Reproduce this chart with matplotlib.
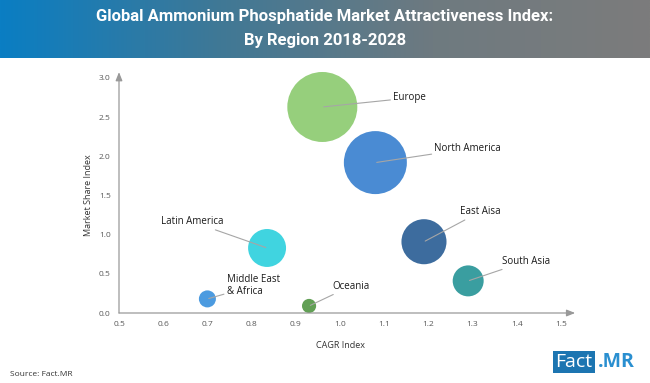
import matplotlib.pyplot as plt
import numpy as np
from matplotlib.colors import LinearSegmentedColormap

# data
regions = ['Europe', 'North America', 'East Aisa', 'South Asia',
           'Latin America', 'Middle East\n& Africa', 'Oceania']
cagr_index = [0.96, 1.08, 1.19, 1.29, 0.835, 0.70, 0.93]
share_index = [2.63, 1.92, 0.91, 0.41, 0.83, 0.18, 0.09]
bubble_size = [49.0, 39.7, 20.3, 9.6, 14.4, 2.9, 2.0]
colors = ['#96CF7C', '#4A8BD3', '#3D6C9E', '#3A9EA0', '#40D4E0', '#4C9BE0', '#62A055']
# label offsets (points) from each bubble
offsets = [(51, 6.5), (42.5, 10), (26, 21.6), (24.7, 14.2), (-31.7, 19), (13.9, 9.4), (16.6, 14.2)]

plt.rcParams['font.family'] = ['Open Sans', 'DejaVu Sans']

fig = plt.figure(figsize=(6.5, 3.83), dpi=100)

# header band
hdr = fig.add_axes([0, 1 - 58 / 383, 1, 58 / 383])
cmap = LinearSegmentedColormap.from_list('hdr', ['#0A7EC3', '#3F7896', '#6E7A80', '#7C7C7C'])
hdr.imshow(np.linspace(0, 1, 256).reshape(1, -1), aspect='auto', cmap=cmap, extent=[0, 1, 0, 1])
hdr.set_axis_off()
title_font = ['Roboto', 'DejaVu Sans']
fig.text(0.5, 1 - 17 / 383, 'Global Ammonium Phosphatide Market Attractiveness Index:',
         ha='center', va='center', color='white', fontsize=12, fontweight='bold', family=title_font)
fig.text(0.5, 1 - 41 / 383, 'By Region 2018-2028',
         ha='center', va='center', color='white', fontsize=12, fontweight='bold', family=title_font)

ax = fig.add_axes([119 / 650, 1 - 313 / 383, 442 / 650, 235 / 383])
ax.scatter(cagr_index, share_index, s=np.array(bubble_size) * 51.84, c=colors,
           edgecolors='none', zorder=3, clip_on=False)

for name, x, y, off in zip(regions, cagr_index, share_index, offsets):
    ha = 'right' if off[0] < 0 else 'left'
    ax.annotate(name, xy=(x, y), xytext=off, textcoords='offset points',
                ha=ha, va='center', fontsize=7, color='#1a1a1a', linespacing=1.15,
                arrowprops=dict(arrowstyle='-', color='#a6a6a6', lw=0.8,
                                shrinkA=0, shrinkB=1), zorder=4)

ax.set_xlim(0.5, 1.5)
ax.set_ylim(0, 3.0)
ax.set_xticks(np.arange(0.5, 1.51, 0.1))
ax.set_yticks(np.arange(0, 3.01, 0.5))
ax.xaxis.set_major_formatter(plt.FormatStrFormatter('%.1f'))
ax.yaxis.set_major_formatter(plt.FormatStrFormatter('%.1f'))
ax.tick_params(length=0, labelsize=6, labelcolor='#595959', pad=6)
for s in ax.spines.values():
    s.set_visible(False)
ax.annotate('', xy=(1.032, 0), xytext=(0, 0), xycoords='axes fraction',
            arrowprops=dict(arrowstyle='-|>,head_length=0.5,head_width=0.2', color='#999999', lw=0.9,
                            shrinkA=0, shrinkB=0))
ax.annotate('', xy=(0, 1.025), xytext=(0, 0), xycoords='axes fraction',
            arrowprops=dict(arrowstyle='-|>,head_length=0.5,head_width=0.2', color='#999999', lw=0.9,
                            shrinkA=0, shrinkB=0))
ax.set_xlabel('CAGR Index', fontsize=6.5, color='#333333', labelpad=9)
ax.set_ylabel('Market Share Index', fontsize=6.5, color='#333333', labelpad=4)

fig.text(10 / 650, 1 - 375 / 383, 'Source: Fact.MR', fontsize=6, color='#333333', va='center')

# logo
fig.text(574 / 650, 1 - 362 / 383, 'Fact', fontsize=14, color='white', ha='center', va='center',
         bbox=dict(boxstyle='square,pad=0.12', fc='#1C75B1', ec='none'))
fig.text(598 / 650, 1 - 362 / 383, '.MR', fontsize=14, color='#2A8FD0', fontweight='bold',
         ha='left', va='center')

fig.savefig('out.png', dpi=100)
